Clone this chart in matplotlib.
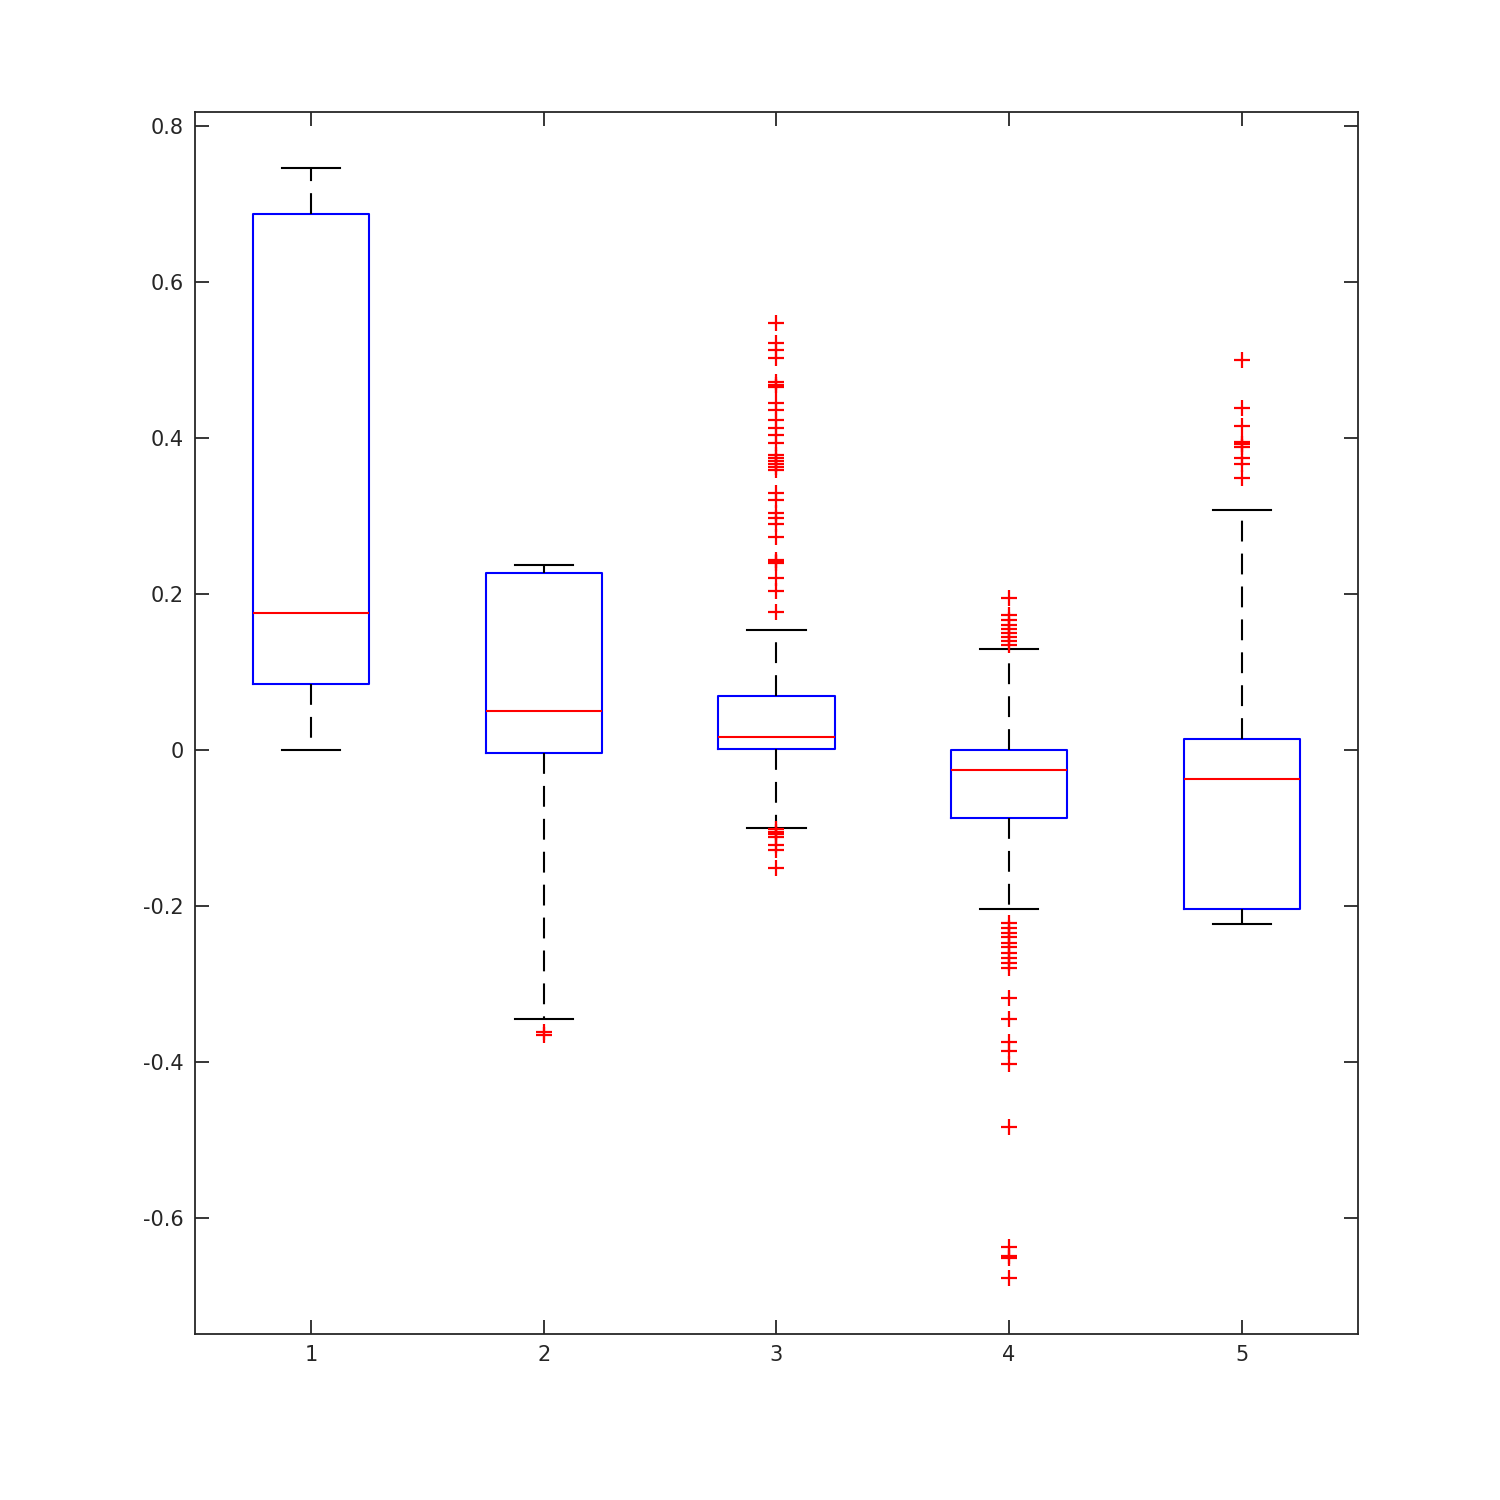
import matplotlib.pyplot as plt

positions = [1, 2, 3, 4, 5]
q1 = [0.0846, -0.004, 0.001, -0.087, -0.204]
med = [0.176, 0.050, 0.0167, -0.026, -0.037]
q3 = [0.687, 0.227, 0.069, 0.0, 0.014]
wlo = [0.0, -0.345, -0.100, -0.204, -0.223]
whi = [0.746, 0.237, 0.154, 0.129, 0.308]

fliers1 = []
fliers2 = [-0.362, -0.365]
fliers3 = [0.547, 0.522, 0.513, 0.503, 0.472, 0.468, 0.465, 0.445, 0.436,
           0.423, 0.413, 0.404, 0.394, 0.378, 0.374, 0.371, 0.367, 0.363,
           0.359, 0.329, 0.321, 0.304, 0.297, 0.290, 0.273, 0.244, 0.241,
           0.240, 0.221, 0.204, 0.177,
           -0.101, -0.105, -0.108, -0.112, -0.122, -0.129, -0.151]
fliers4 = [0.195, 0.173, 0.167, 0.160, 0.155, 0.150, 0.145, 0.140, 0.135,
           -0.222, -0.228, -0.235, -0.240, -0.247, -0.253, -0.260, -0.267,
           -0.273, -0.280, -0.318, -0.345, -0.374, -0.386, -0.403, -0.483,
           -0.637, -0.649, -0.652, -0.677]
fliers5 = [0.500, 0.438, 0.415, 0.395, 0.392, 0.389, 0.374, 0.367, 0.349]
fliers = [fliers1, fliers2, fliers3, fliers4, fliers5]

stats = []
for i in range(5):
    stats.append(dict(q1=q1[i], med=med[i], q3=q3[i], whislo=wlo[i],
                      whishi=whi[i], fliers=fliers[i]))

fig = plt.figure(figsize=(15, 15), dpi=100)
ax = fig.add_axes([0.13, 0.1107, 0.7753, 0.8146])

ax.bxp(stats, positions=positions, widths=0.5, capwidths=0.25,
       boxprops=dict(color='#0000ff', linewidth=1.5),
       medianprops=dict(color='#ff0000', linewidth=1.5),
       whiskerprops=dict(color='black', linewidth=1.5, linestyle=(0, (10, 5.8))),
       capprops=dict(color='black', linewidth=1.5),
       flierprops=dict(marker='+', markeredgecolor='#ff0000', markersize=11,
                       markeredgewidth=1.6, linestyle='none'))

ax.set_xlim(0.5, 5.5)
ax.set_ylim(-0.749, 0.818)
ax.set_xticks(positions)
ax.set_xticklabels(['1', '2', '3', '4', '5'])
ax.set_yticks([-0.6, -0.4, -0.2, 0, 0.2, 0.4, 0.6, 0.8])
ax.set_yticklabels(['-0.6', '-0.4', '-0.2', '0', '0.2', '0.4', '0.6', '0.8'])
ax.tick_params(direction='in', length=10, width=1.3, top=True, right=True,
               labelsize=15, colors='#262626', pad=8)
for s in ax.spines.values():
    s.set_color('#262626')
    s.set_linewidth(1.3)

fig.savefig('out.png', dpi=100)
